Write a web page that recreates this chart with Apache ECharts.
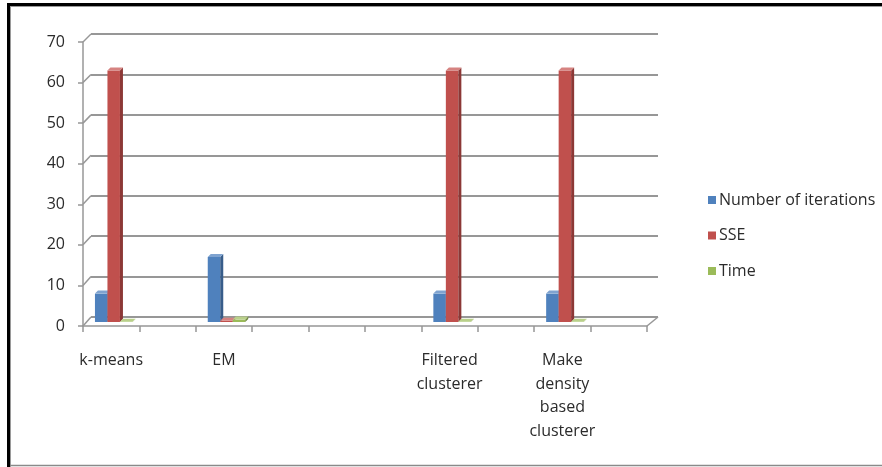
<!DOCTYPE html>
<html>
<head>
<meta charset="utf-8">
<script src="https://cdn.jsdelivr.net/npm/echarts@6/dist/echarts.min.js"></script>
<style>
  html, body { margin: 0; padding: 0; background: #fff; }
  #chart { width: 882px; height: 467px; }
</style>
</head>
<body>
<div id="chart"></div>
<script>
// Clustering algorithms compared on iterations, SSE and run time
const categories = ['k-means', '', 'EM', '', '', '', 'Filtered\nclusterer', '', 'Make\ndensity\nbased\nclusterer', ''];
const iterations = [7, null, 16, null, null, null, 7, null, 7, null];
const sse        = [62, null, 0.3, null, null, null, 62, null, 62, null];
const timeTaken  = [0.05, null, 0.6, null, null, null, 0.05, null, 0.05, null];
const seriesNames = ['Number of iterations', 'SSE', 'Time'];
const yTicks = [0, 10, 20, 30, 40, 50, 60, 70];

const FONT = 'Open Sans';
const TEXT = '#2b2b2b';
const GRID = '#979797';

// front, side and top face colours for each series
const faces = [
  { front: '#4F81BD', side: '#385D8A', top: '#7FA3D0' },
  { front: '#C0504D', side: '#8C3836', top: '#D68381' },
  { front: '#9BBB59', side: '#71893F', top: '#B9D08A' }
];

const BAR_W = 12.5;   // width of a single column
const DEPTH = 3;      // visible column depth
const SHIFT = 4;      // columns stand mid-way into the floor

function makeRender(s) {
  return function (params, api) {
    const v = api.value(1);
    if (v == null || isNaN(v)) return null;
    const ci = api.value(0);
    const base = api.coord([ci, 0]);
    const top = api.coord([ci, v]);
    const x0 = base[0] - 1.5 * BAR_W + s * BAR_W + SHIFT - 1.5;
    const yb = base[1] - SHIFT;
    const yt = top[1] - SHIFT;
    const f = faces[s];
    return {
      type: 'group',
      children: [
        { type: 'rect', shape: { x: x0, y: yt, width: BAR_W, height: yb - yt }, style: { fill: f.front } },
        { type: 'polygon', shape: { points: [[x0 + BAR_W, yt], [x0 + BAR_W + DEPTH, yt - DEPTH], [x0 + BAR_W + DEPTH, yb - DEPTH], [x0 + BAR_W, yb]] }, style: { fill: f.side } },
        { type: 'polygon', shape: { points: [[x0, yt], [x0 + DEPTH, yt - DEPTH], [x0 + BAR_W + DEPTH, yt - DEPTH], [x0 + BAR_W, yt]] }, style: { fill: f.top } }
      ]
    };
  };
}

const valueSets = [iterations, sse, timeTaken];
const series = valueSets.map((vals, s) => ({
  name: seriesNames[s],
  type: 'custom',
  xAxisIndex: 0,
  yAxisIndex: 0,
  renderItem: makeRender(s),
  itemStyle: { color: faces[s].front },
  data: vals.map((v, i) => [i, v]),
  z: 5
}));

const chart = echarts.init(document.getElementById('chart'));
chart.setOption({
  animation: false,
  textStyle: { fontFamily: FONT },
  grid: [
    { left: 83, right: 235, top: 42, bottom: 141 },   // front plane: axes and columns
    { left: 91, right: 224, top: 34, bottom: 150 }    // back wall: gridlines
  ],
  xAxis: [
    {
      type: 'category', gridIndex: 0, data: categories, boundaryGap: true,
      axisLine: { lineStyle: { color: GRID, width: 1.5 } },
      axisTick: { show: true, interval: 0, length: 6, lineStyle: { color: GRID, width: 1.5 } },
      axisLabel: { interval: 0, color: TEXT, fontSize: 16, lineHeight: 23.5, margin: 23, fontFamily: FONT }
    },
    {
      type: 'category', gridIndex: 1, data: categories, show: false
    }
  ],
  yAxis: [
    {
      type: 'value', gridIndex: 0, min: 0, max: 70, interval: 10,
      axisLine: { show: true, lineStyle: { color: GRID, width: 1.5 } },
      axisTick: { show: true, length: 5, lineStyle: { color: GRID, width: 1.5 } },
      splitLine: { show: false },
      axisLabel: { color: TEXT, fontSize: 16, margin: 18, fontFamily: FONT }
    },
    {
      type: 'value', gridIndex: 1, min: 0, max: 70, interval: 10,
      axisLine: { show: false }, axisTick: { show: false }, axisLabel: { show: false },
      splitLine: { show: true, lineStyle: { color: GRID, width: 1.8 } }
    }
  ],
  legend: {
    orient: 'vertical', left: 703, top: 187,
    itemWidth: 8, itemHeight: 8, itemGap: 19.5, icon: 'rect',
    textStyle: { color: TEXT, fontSize: 16, fontFamily: FONT, padding: [0, 0, 0, -2] },
    data: seriesNames
  },
  series: series
});

// side-wall and floor edges joining the front axes to the back wall
function drawEdges() {
  const els = [];
  const line = (x1, y1, x2, y2) => els.push({
    type: 'line', shape: { x1, y1, x2, y2 }, style: { stroke: GRID, lineWidth: 1.5 }, z: 1, silent: true
  });
  const bwF = chart.getModel().getComponent('xAxis', 0).axis.getBandWidth();
  const bwB = chart.getModel().getComponent('xAxis', 1).axis.getBandWidth();
  const xf = chart.convertToPixel({ xAxisIndex: 0 }, 0) - bwF / 2;
  const xb = chart.convertToPixel({ xAxisIndex: 1 }, 0) - bwB / 2;
  yTicks.forEach(t => {
    line(xf, chart.convertToPixel({ yAxisIndex: 0 }, t), xb, chart.convertToPixel({ yAxisIndex: 1 }, t));
  });
  const last = categories.length - 1;
  const xfR = chart.convertToPixel({ xAxisIndex: 0 }, last) + bwF / 2;
  const xbR = chart.convertToPixel({ xAxisIndex: 1 }, last) + bwB / 2;
  line(xfR, chart.convertToPixel({ yAxisIndex: 0 }, 0), xbR, chart.convertToPixel({ yAxisIndex: 1 }, 0));

  // outer frame
  els.push({ type: 'rect', shape: { x: 7, y: 3, width: 875, height: 3 }, style: { fill: '#000' }, silent: true });
  els.push({ type: 'rect', shape: { x: 7, y: 3, width: 3, height: 464 }, style: { fill: '#000' }, silent: true });
  els.push({ type: 'line', shape: { x1: 10, y1: 6.5, x2: 882, y2: 6.5 }, style: { stroke: '#9a9a9a', lineWidth: 1 }, silent: true });
  els.push({ type: 'line', shape: { x1: 10.5, y1: 6, x2: 10.5, y2: 467 }, style: { stroke: '#9a9a9a', lineWidth: 1 }, silent: true });
  els.push({ type: 'line', shape: { x1: 10, y1: 465.5, x2: 882, y2: 465.5 }, style: { stroke: '#8a8a8a', lineWidth: 1.5 }, silent: true });
  chart.setOption({ graphic: els });
}
drawEdges();
</script>
</body>
</html>
